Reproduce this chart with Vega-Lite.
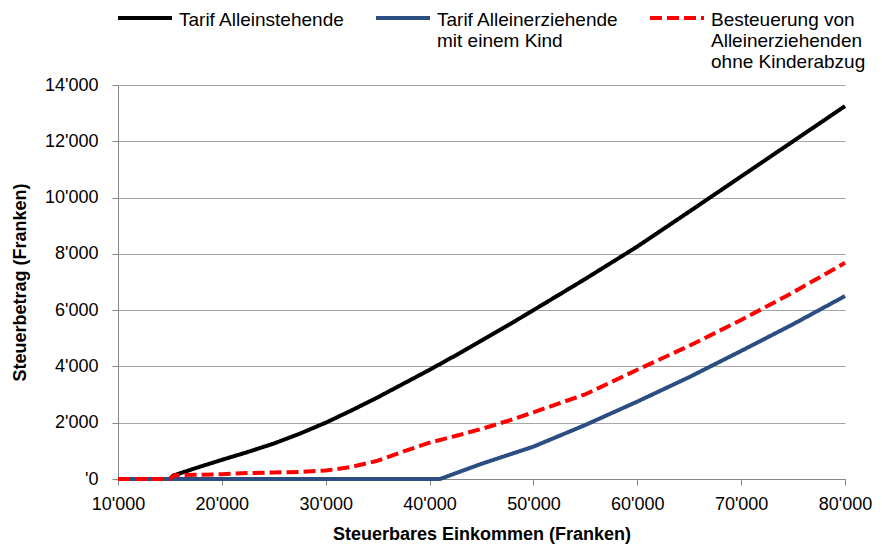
{
  "$schema": "https://vega.github.io/schema/vega-lite/v6.json",
  "width": 727,
  "height": 394,
  "autosize": {"type": "none"},
  "padding": {"left": 118, "top": 85, "right": 37, "bottom": 66},
  "background": "white",
  "config": {"font": "Liberation Sans", "view": {"stroke": null}},
  "data": {
    "values": [
      {"einkommen": 10000, "steuer": 0, "serie": "Tarif Alleinstehende"},
      {"einkommen": 15000, "steuer": 0, "serie": "Tarif Alleinstehende"},
      {"einkommen": 15300, "steuer": 120, "serie": "Tarif Alleinstehende"},
      {"einkommen": 17500, "steuer": 390, "serie": "Tarif Alleinstehende"},
      {"einkommen": 20000, "steuer": 680, "serie": "Tarif Alleinstehende"},
      {"einkommen": 22500, "steuer": 960, "serie": "Tarif Alleinstehende"},
      {"einkommen": 25000, "steuer": 1260, "serie": "Tarif Alleinstehende"},
      {"einkommen": 27500, "steuer": 1610, "serie": "Tarif Alleinstehende"},
      {"einkommen": 30000, "steuer": 2000, "serie": "Tarif Alleinstehende"},
      {"einkommen": 32500, "steuer": 2440, "serie": "Tarif Alleinstehende"},
      {"einkommen": 35000, "steuer": 2900, "serie": "Tarif Alleinstehende"},
      {"einkommen": 37500, "steuer": 3390, "serie": "Tarif Alleinstehende"},
      {"einkommen": 40000, "steuer": 3880, "serie": "Tarif Alleinstehende"},
      {"einkommen": 42500, "steuer": 4390, "serie": "Tarif Alleinstehende"},
      {"einkommen": 45000, "steuer": 4920, "serie": "Tarif Alleinstehende"},
      {"einkommen": 47500, "steuer": 5450, "serie": "Tarif Alleinstehende"},
      {"einkommen": 50000, "steuer": 6000, "serie": "Tarif Alleinstehende"},
      {"einkommen": 55000, "steuer": 7110, "serie": "Tarif Alleinstehende"},
      {"einkommen": 60000, "steuer": 8260, "serie": "Tarif Alleinstehende"},
      {"einkommen": 65000, "steuer": 9500, "serie": "Tarif Alleinstehende"},
      {"einkommen": 70000, "steuer": 10750, "serie": "Tarif Alleinstehende"},
      {"einkommen": 75000, "steuer": 12000, "serie": "Tarif Alleinstehende"},
      {"einkommen": 80000, "steuer": 13250, "serie": "Tarif Alleinstehende"},
      {"einkommen": 10000, "steuer": 0, "serie": "Tarif Alleinerziehende mit einem Kind"},
      {"einkommen": 41000, "steuer": 0, "serie": "Tarif Alleinerziehende mit einem Kind"},
      {"einkommen": 45000, "steuer": 540, "serie": "Tarif Alleinerziehende mit einem Kind"},
      {"einkommen": 50000, "steuer": 1150, "serie": "Tarif Alleinerziehende mit einem Kind"},
      {"einkommen": 55000, "steuer": 1920, "serie": "Tarif Alleinerziehende mit einem Kind"},
      {"einkommen": 60000, "steuer": 2750, "serie": "Tarif Alleinerziehende mit einem Kind"},
      {"einkommen": 65000, "steuer": 3620, "serie": "Tarif Alleinerziehende mit einem Kind"},
      {"einkommen": 70000, "steuer": 4550, "serie": "Tarif Alleinerziehende mit einem Kind"},
      {"einkommen": 75000, "steuer": 5500, "serie": "Tarif Alleinerziehende mit einem Kind"},
      {"einkommen": 80000, "steuer": 6500, "serie": "Tarif Alleinerziehende mit einem Kind"},
      {"einkommen": 10000, "steuer": 0, "serie": "Besteuerung von Alleinerziehenden ohne Kinderabzug"},
      {"einkommen": 15000, "steuer": 0, "serie": "Besteuerung von Alleinerziehenden ohne Kinderabzug"},
      {"einkommen": 15400, "steuer": 130, "serie": "Besteuerung von Alleinerziehenden ohne Kinderabzug"},
      {"einkommen": 17500, "steuer": 150, "serie": "Besteuerung von Alleinerziehenden ohne Kinderabzug"},
      {"einkommen": 20000, "steuer": 170, "serie": "Besteuerung von Alleinerziehenden ohne Kinderabzug"},
      {"einkommen": 22500, "steuer": 210, "serie": "Besteuerung von Alleinerziehenden ohne Kinderabzug"},
      {"einkommen": 25000, "steuer": 230, "serie": "Besteuerung von Alleinerziehenden ohne Kinderabzug"},
      {"einkommen": 27500, "steuer": 250, "serie": "Besteuerung von Alleinerziehenden ohne Kinderabzug"},
      {"einkommen": 30000, "steuer": 300, "serie": "Besteuerung von Alleinerziehenden ohne Kinderabzug"},
      {"einkommen": 32500, "steuer": 430, "serie": "Besteuerung von Alleinerziehenden ohne Kinderabzug"},
      {"einkommen": 35000, "steuer": 650, "serie": "Besteuerung von Alleinerziehenden ohne Kinderabzug"},
      {"einkommen": 37500, "steuer": 980, "serie": "Besteuerung von Alleinerziehenden ohne Kinderabzug"},
      {"einkommen": 40000, "steuer": 1290, "serie": "Besteuerung von Alleinerziehenden ohne Kinderabzug"},
      {"einkommen": 42500, "steuer": 1530, "serie": "Besteuerung von Alleinerziehenden ohne Kinderabzug"},
      {"einkommen": 45000, "steuer": 1780, "serie": "Besteuerung von Alleinerziehenden ohne Kinderabzug"},
      {"einkommen": 47500, "steuer": 2060, "serie": "Besteuerung von Alleinerziehenden ohne Kinderabzug"},
      {"einkommen": 50000, "steuer": 2370, "serie": "Besteuerung von Alleinerziehenden ohne Kinderabzug"},
      {"einkommen": 55000, "steuer": 3010, "serie": "Besteuerung von Alleinerziehenden ohne Kinderabzug"},
      {"einkommen": 60000, "steuer": 3880, "serie": "Besteuerung von Alleinerziehenden ohne Kinderabzug"},
      {"einkommen": 65000, "steuer": 4730, "serie": "Besteuerung von Alleinerziehenden ohne Kinderabzug"},
      {"einkommen": 70000, "steuer": 5650, "serie": "Besteuerung von Alleinerziehenden ohne Kinderabzug"},
      {"einkommen": 75000, "steuer": 6630, "serie": "Besteuerung von Alleinerziehenden ohne Kinderabzug"},
      {"einkommen": 80000, "steuer": 7680, "serie": "Besteuerung von Alleinerziehenden ohne Kinderabzug"}
    ]
  },
  "mark": {"type": "line", "strokeWidth": 4, "strokeCap": "butt", "strokeJoin": "round"},
  "encoding": {
    "x": {
      "field": "einkommen",
      "type": "quantitative",
      "scale": {"domain": [10000, 80000], "nice": false, "zero": false},
      "axis": {
        "values": [10000, 20000, 30000, 40000, 50000, 60000, 70000, 80000],
        "labelExpr": "replace(format(datum.value, ','), ',', \"'\")",
        "labelFlush": false,
        "title": "Steuerbares Einkommen (Franken)",
        "grid": false,
        "domainColor": "#868686",
        "tickColor": "#868686",
        "tickSize": 6,
        "labelFontSize": 18,
        "labelColor": "black",
        "labelPadding": 10,
        "titleFontSize": 18,
        "titleFontWeight": "bold",
        "titleColor": "black",
        "titlePadding": 12
      }
    },
    "y": {
      "field": "steuer",
      "type": "quantitative",
      "scale": {"domain": [0, 14000], "nice": false},
      "axis": {
        "values": [0, 2000, 4000, 6000, 8000, 10000, 12000, 14000],
        "labelExpr": "datum.value == 0 ? \"'0\" : replace(format(datum.value, ','), ',', \"'\")",
        "labelFlush": false,
        "title": "Steuerbetrag (Franken)",
        "grid": true,
        "gridColor": "#A6A6A6",
        "gridWidth": 1,
        "domainColor": "#868686",
        "tickColor": "#868686",
        "tickSize": 6,
        "labelFontSize": 18,
        "labelColor": "black",
        "labelPadding": 14,
        "titleFontSize": 18,
        "titleFontWeight": "bold",
        "titleColor": "black",
        "titlePadding": 15
      }
    },
    "color": {
      "field": "serie",
      "type": "nominal",
      "scale": {
        "domain": ["Tarif Alleinstehende", "Tarif Alleinerziehende mit einem Kind", "Besteuerung von Alleinerziehenden ohne Kinderabzug"],
        "range": ["#000000", "#2B4D82", "#FF0000"]
      },
      "legend": {
        "title": null,
        "orient": "none",
        "legendX": -2,
        "legendY": -96,
        "direction": "horizontal",
        "symbolType": "stroke",
        "symbolSize": 2916,
        "symbolStrokeWidth": 4,
        "labelFontSize": 19,
        "labelColor": "black",
        "labelOffset": 5,
        "labelLimit": 400,
        "labelBaseline": "top",
        "columnPadding": 23,
        "labelExpr": "datum.label == 'Tarif Alleinerziehende mit einem Kind' ? ['Tarif Alleinerziehende', 'mit einem Kind', ''] : datum.label == 'Besteuerung von Alleinerziehenden ohne Kinderabzug' ? ['Besteuerung von', 'Alleinerziehenden', 'ohne Kinderabzug'] : [datum.label, '', '']",
        "encode": {
          "labels": {"update": {"lineHeight": {"value": 21}, "dy": {"value": -7}}}
        }
      }
    },
    "strokeDash": {
      "field": "serie",
      "type": "nominal",
      "scale": {
        "domain": ["Tarif Alleinstehende", "Tarif Alleinerziehende mit einem Kind", "Besteuerung von Alleinerziehenden ohne Kinderabzug"],
        "range": [[1, 0], [1, 0], [12, 5]]
      }
    }
  }
}
